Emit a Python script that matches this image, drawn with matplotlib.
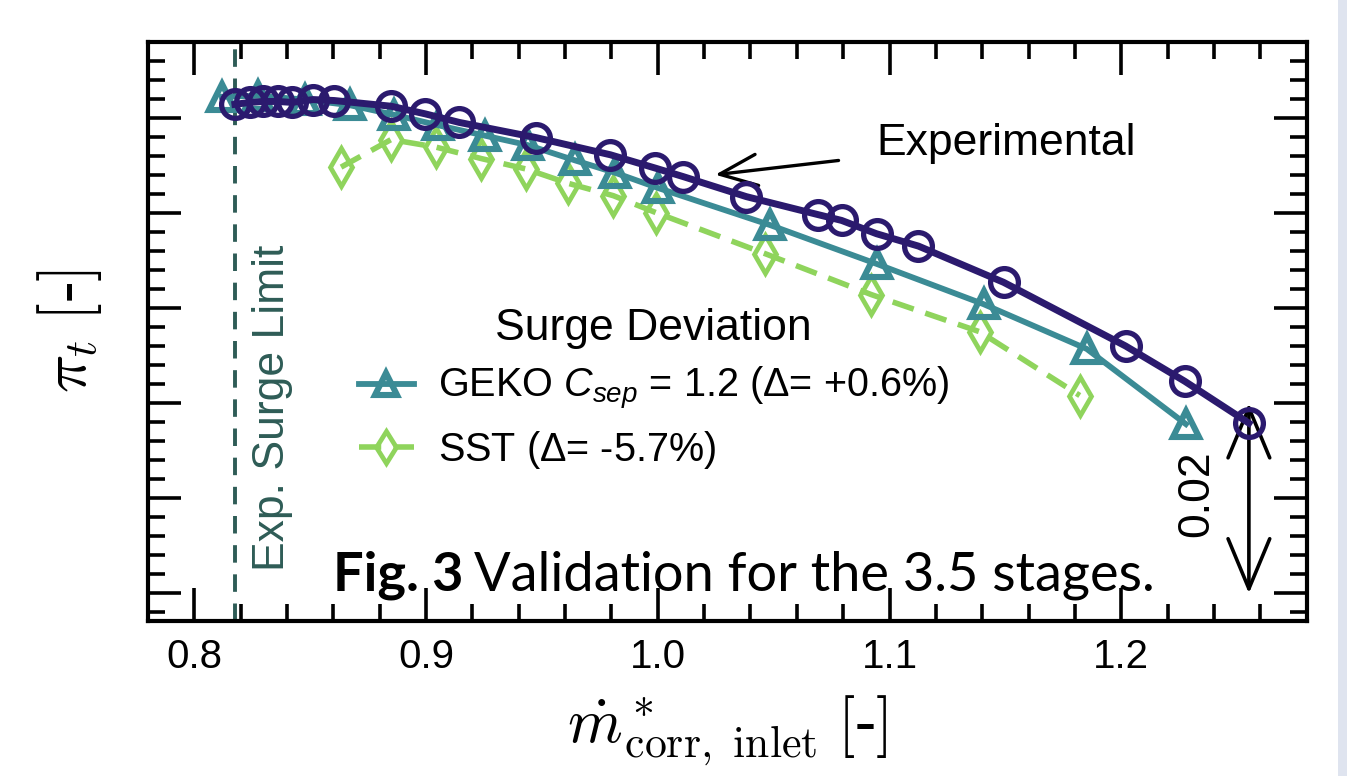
import matplotlib
matplotlib.use("Agg")
import matplotlib.pyplot as plt
from matplotlib.ticker import MultipleLocator, NullFormatter
from matplotlib.patches import Rectangle

plt.rcParams['font.family'] = ['Liberation Sans', 'DejaVu Sans']
plt.rcParams['mathtext.fontset'] = 'custom'
plt.rcParams['mathtext.rm'] = 'Liberation Sans'
plt.rcParams['mathtext.it'] = 'Liberation Sans:italic'

# experimental speedline
exp_x = [0.8175, 0.8240, 0.8296, 0.8361, 0.8421, 0.8512, 0.8603, 0.8849, 0.8996,
         0.9143, 0.9475, 0.9795, 0.9989, 1.0110, 1.0382, 1.0693, 1.0793, 1.0944,
         1.1125, 1.1492, 1.2019, 1.2274, 1.2551]
exp_y = [1.5014, 1.5016, 1.5017, 1.5017, 1.5016, 1.5019, 1.5018, 1.5012, 1.5004,
         1.4995, 1.4979, 1.4961, 1.4947, 1.4938, 1.4917, 1.4898, 1.4892, 1.4878,
         1.4865, 1.4827, 1.4760, 1.4723, 1.4679]

# GEKO Csep = 1.2
geko_x = [0.8119, 0.8274, 0.8477, 0.8672, 0.8862, 0.9052, 0.9255, 0.9441, 0.9644,
          0.9817, 1.0002, 1.0486, 1.0948, 1.1406, 1.1851, 1.2279]
geko_y = [1.5022, 1.5023, 1.5019, 1.5013, 1.5003, 1.4992, 1.4981, 1.4971, 1.4955,
          1.4942, 1.4926, 1.4887, 1.4846, 1.4804, 1.4757, 1.4678]

# SST
sst_x = [0.8633, 0.8849, 0.9043, 0.9238, 0.9432, 0.9613, 0.9808, 0.9994, 1.0464,
         1.0922, 1.1389, 1.1821]
sst_y = [1.4948, 1.4977, 1.4969, 1.4957, 1.4946, 1.4931, 1.4918, 1.4900, 1.4857,
         1.4814, 1.4775, 1.4708]

surge_limit = 0.8174
scale_x = 1.2551
scale_lo, scale_hi = 1.45, 1.47

c_exp = '#2b1a6e'
c_geko = '#3b8b95'
c_sst = '#8fd45c'
c_surge = '#2e5c56'

fig = plt.figure(figsize=(13.47, 7.76), dpi=100)
fig.patches.append(Rectangle((1338 / 1347, 0), 9 / 1347, 1, transform=fig.transFigure,
                             facecolor='#dfe4ef', edgecolor='none', zorder=-1))
ax = fig.add_axes([0.1099, 0.1997, 0.8601, 0.7468])

ax.plot(exp_x, exp_y, '-o', color=c_exp, lw=5, ms=20, mfc='none', mew=3.8, zorder=5)
ax.plot(geko_x, geko_y, '-^', color=c_geko, lw=4.2, ms=19, mfc='none', mew=4.4,
        label='GEKO $C_{sep}$ = 1.2 ($\\Delta$= +0.6%)', zorder=4)
ax.plot(sst_x, sst_y, '--d', color=c_sst, lw=4.0, ms=19, mfc='none', mew=3.4,
        dashes=(4, 2.2), label='SST ($\\Delta$= -5.7%)', zorder=3)

ax.axvline(surge_limit, color=c_surge, lw=2.8, ls=(0, (4.5, 3)), zorder=2)
ax.text(surge_limit + 0.0165, 1.4524, 'Exp. Surge Limit', rotation=90, color=c_surge,
        fontsize=32, ha='center', va='bottom')

ax.annotate('', xy=(scale_x, scale_lo), xytext=(scale_x, scale_hi),
            arrowprops=dict(arrowstyle='<->,head_length=0.6,head_width=0.25', color='black',
                            lw=2.6, mutation_scale=60, shrinkA=0, shrinkB=0))
ax.text(scale_x - 0.0225, 1.4605, '0.02', rotation=90, fontsize=32, ha='center', va='center')

# label for the experimental curve
ax.text(1.0944, 1.4973, 'Experimental', fontsize=32, ha='left', va='center')
ax.annotate('', xy=(1.0248, 1.4940), xytext=(1.0780, 1.4955),
            arrowprops=dict(arrowstyle='->,head_length=0.6,head_width=0.25', color='black',
                            lw=2.4, mutation_scale=45, shrinkA=0, shrinkB=0))

ax.set_xlim(0.78, 1.28)
ax.set_ylim(1.4471, 1.508)
ax.xaxis.set_major_locator(MultipleLocator(0.1))
ax.xaxis.set_minor_locator(MultipleLocator(0.02))
ax.yaxis.set_major_locator(MultipleLocator(0.01))
ax.yaxis.set_minor_locator(MultipleLocator(0.002))
ax.yaxis.set_major_formatter(NullFormatter())
ax.tick_params(which='both', direction='in', top=True, right=True, width=2.6)
ax.tick_params(which='major', length=24, labelsize=29, pad=12)
ax.tick_params(which='minor', length=12)
for s in ax.spines.values():
    s.set_linewidth(3)

ax.set_xlabel('$\\dot{m}^*_{\\mathrm{corr,\\ inlet}}$ $[$-$]$', fontsize=45,
              family='Liberation Serif', math_fontfamily='cm', labelpad=13)
ax.set_ylabel('$\\pi_t$ $[$-$]$', fontsize=46, family='Liberation Serif',
              math_fontfamily='cm', labelpad=20)

leg = ax.legend(loc='upper left', bbox_to_anchor=(0.151, 0.602), frameon=False,
                fontsize=28.5, title='Surge Deviation', title_fontsize=32,
                handlelength=1.4, handletextpad=0.6, labelspacing=0.42, markerscale=0.85)

# caption pasted on the figure: bold "Fig. 3" then regular text
cap_x, cap_y = 333 / 1347, 1 - 590 / 776
t1 = fig.text(cap_x, cap_y, 'Fig. 3', fontsize=39, family='Lato', weight='bold')
fig.canvas.draw()
bb = t1.get_window_extent()
fig.text(bb.x1 / fig.bbox.width + 0.008, cap_y, 'Validation for the 3.5 stages.',
         fontsize=39, family='Lato')

fig.savefig('out.png', dpi=100)
